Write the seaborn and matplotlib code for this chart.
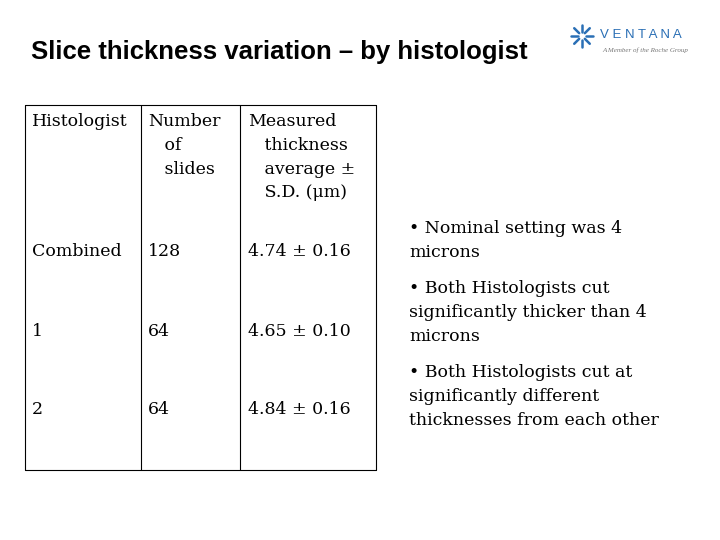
import matplotlib
matplotlib.use("Agg")
import matplotlib.pyplot as plt
import seaborn as sns
import numpy as np

sns.set_style("white")
plt.rcParams['font.family'] = ['DejaVu Sans']
plt.rcParams['text.color'] = 'black'

histologists = ["Combined", "1", "2"]
n_slides = [128, 64, 64]
means = [4.74, 4.65, 4.84]
sds = [0.16, 0.10, 0.16]
headers = ["Histologist", "Number\n   of\n   slides", "Measured\n   thickness\n   average ±\n   S.D. (μm)"]
bullets = ["• Nominal setting was 4\nmicrons",
           "• Both Histologists cut\nsignificantly thicker than 4\nmicrons",
           "• Both Histologists cut at\nsignificantly different\nthicknesses from each other"]

fig = plt.figure(figsize=(7.2, 5.4), dpi=100)
ax = fig.add_axes([0, 0, 1, 1])
ax.set_xlim(0, 720); ax.set_ylim(540, 0); ax.axis("off")

ax.text(31, 52, "Slice thickness variation – by histologist", fontsize=18.5,
        fontweight="bold", family="Liberation Sans", va="center")

# logo
ax.text(600, 35, "V E N T A N A", fontsize=9.5, color="#2a6fb5", family="Liberation Sans", va="center")
ax.text(645, 50, "A Member of the Roche Group", fontsize=5, color="#777777",
        family="Liberation Serif", style="italic", va="center", ha="center")
for a in np.linspace(0, 2*np.pi, 8, endpoint=False):
    ax.plot([582+4*np.cos(a), 582+11*np.cos(a)], [36+4*np.sin(a), 36+11*np.sin(a)],
            color="#2a6fb5", lw=1.8)

# table
xs = [25, 141, 240, 376]
top, bot = 105, 470
for x in xs:
    ax.plot([x, x], [top, bot], color="black", lw=0.8)
ax.plot([25, 376], [top, top], color="black", lw=0.8)
ax.plot([25, 376], [bot, bot], color="black", lw=0.8)

tf = dict(fontsize=12.5, family="DejaVu Serif", va="top", linespacing=1.52)
for x, h in zip([32, 148, 248], headers):
    ax.text(x, 113, h, **tf)
rows_y = [252, 331, 409]
for y, h, n, m, s in zip(rows_y, histologists, n_slides, means, sds):
    tr = dict(tf); tr["va"] = "center"
    ax.text(32, y, h, **tr)
    ax.text(148, y, str(n), **tr)
    ax.text(248, y, f"{m:.2f} ± {s:.2f}", **tr)

for y, b in zip([220, 280, 364], bullets):
    ax.text(409, y, b, fontsize=12.5, family="DejaVu Serif", va="top", linespacing=1.52)

fig.savefig("out.png", dpi=100)
